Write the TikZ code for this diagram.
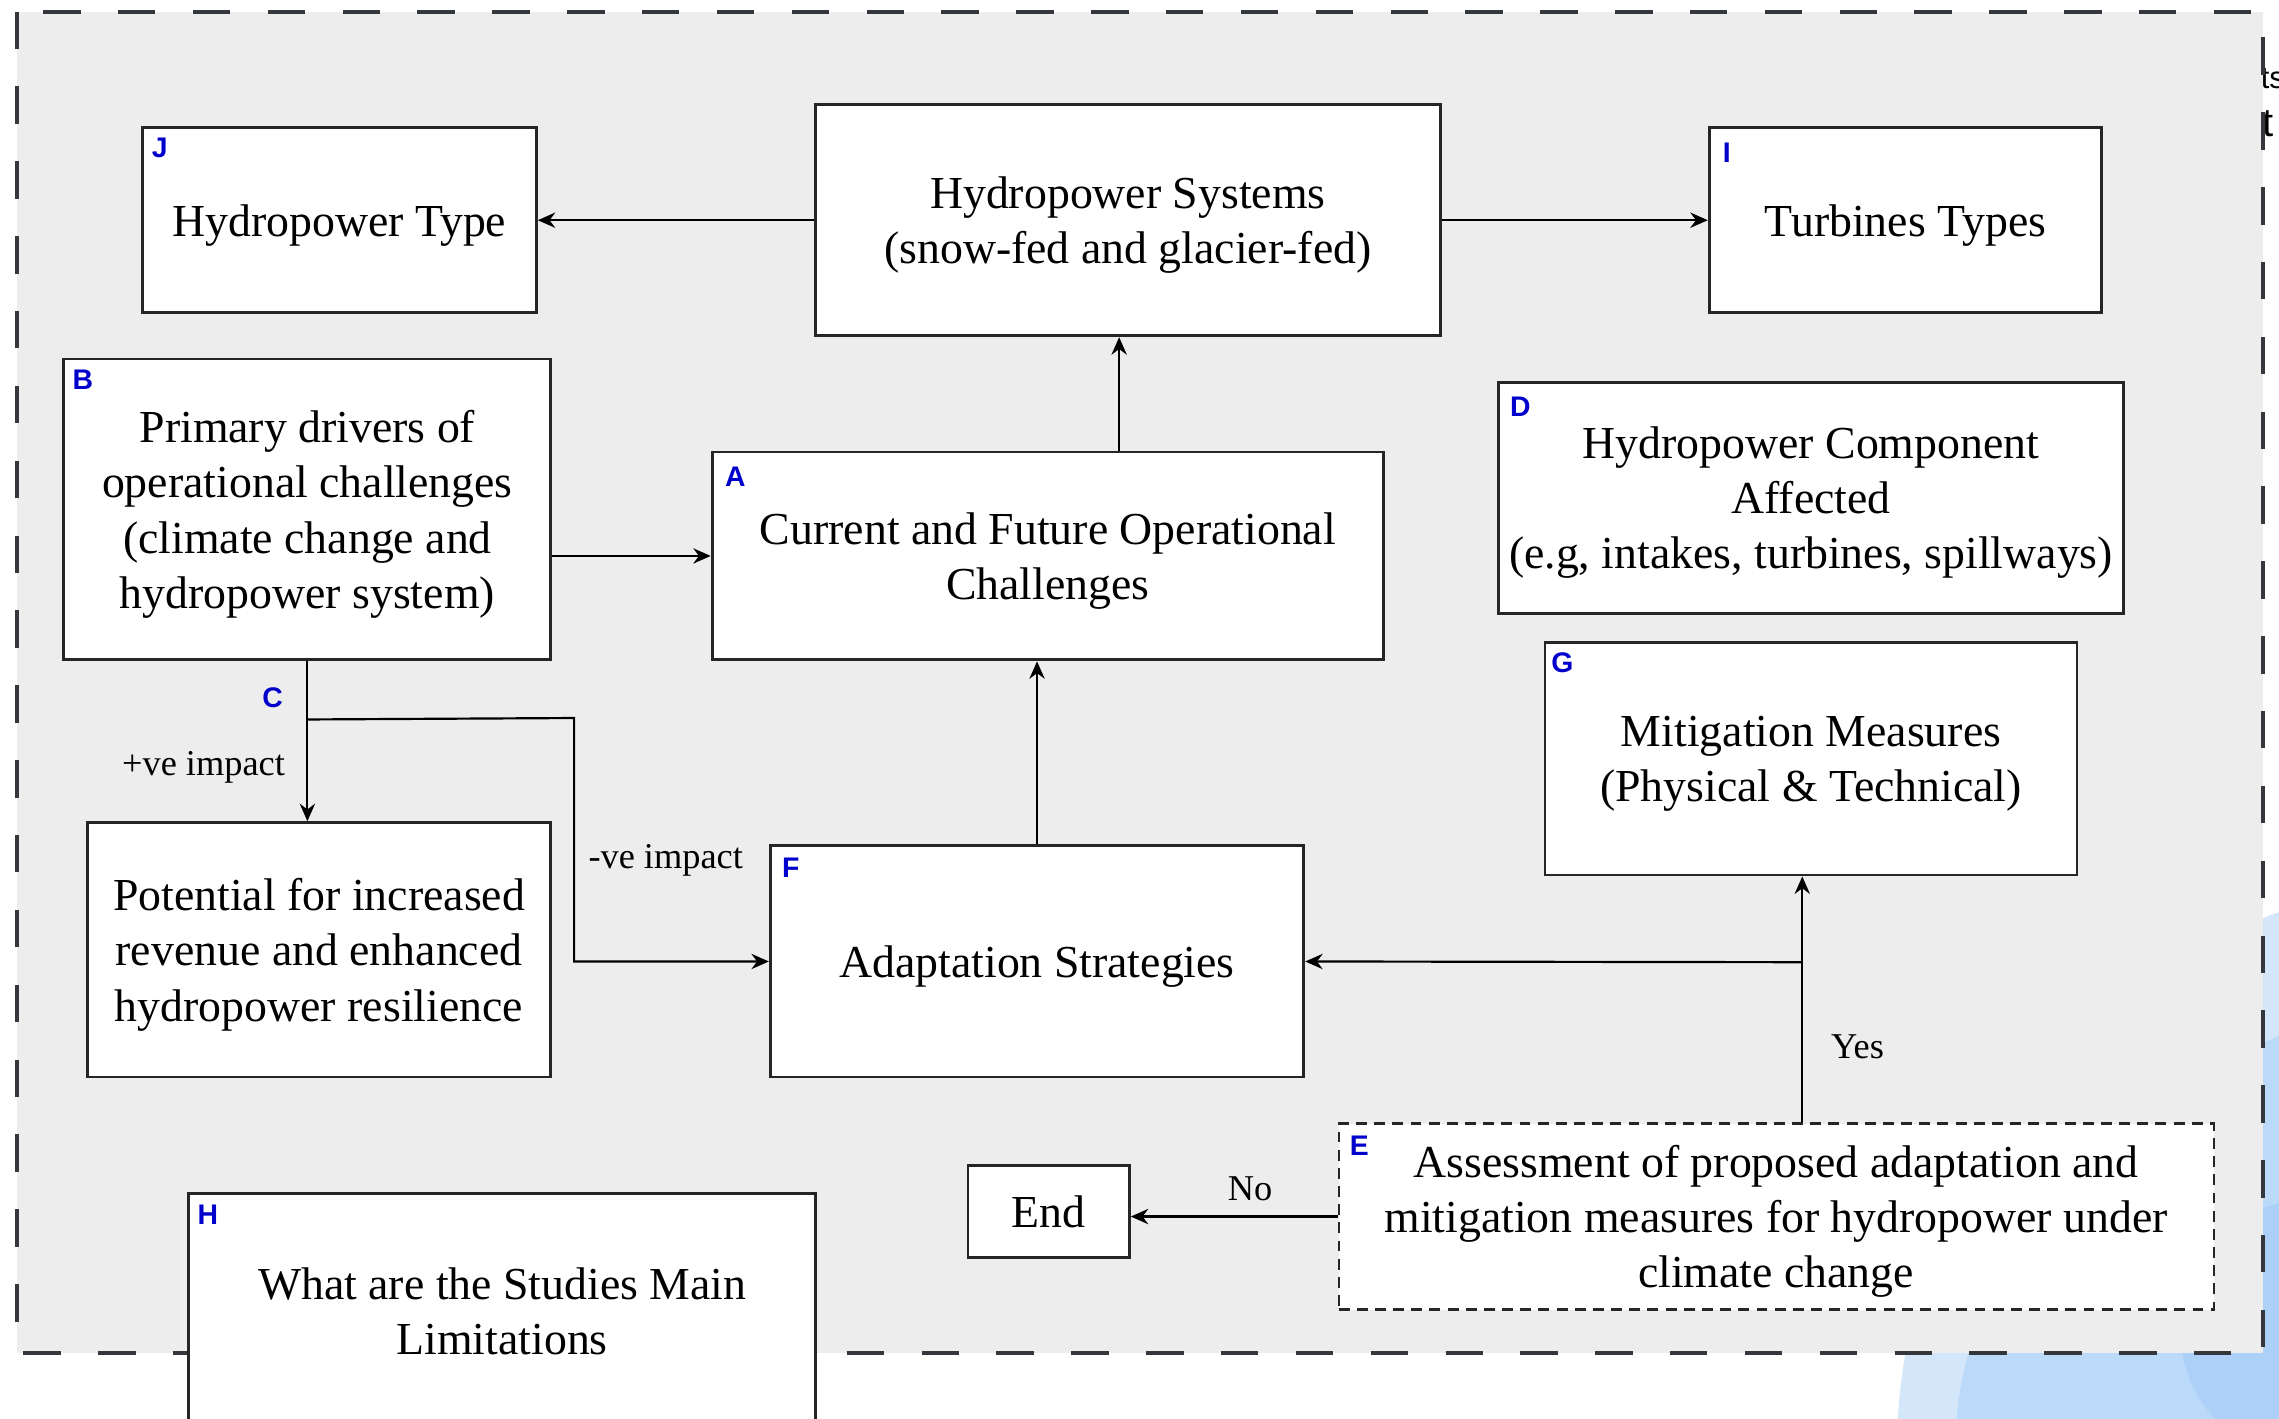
\documentclass[tikz,border=0pt]{standalone}
\usepackage{fontspec}
\setmainfont{Liberation Serif}
\newfontfamily\tagfont{Liberation Sans}
\usetikzlibrary{arrows.meta}

\definecolor{tagblue}{RGB}{0,0,204}
\definecolor{panelgray}{RGB}{237,237,237}
\definecolor{framegray}{RGB}{52,56,60}
\definecolor{skyA}{RGB}{212,231,250}
\definecolor{skyB}{RGB}{187,218,249}
\definecolor{skyC}{RGB}{172,208,247}

\tikzset{
  box/.style={draw=black!85, line width=0.8pt, fill=white, align=center, inner sep=0pt,
    font=\fontsize{12.6}{15.2}\selectfont, text depth=-1.3pt},
  tag/.style={text=tagblue, font=\tagfont\bfseries\fontsize{7.8}{9}\selectfont, inner sep=0pt},
  arr/.style={line width=0.6pt, -{Stealth[length=4.8pt,width=4.2pt]}},
  elabel/.style={font=\fontsize{10}{12}\selectfont, inner sep=0pt},
}

\begin{document}
\begin{tikzpicture}[x=0.4pt,y=-0.4pt]
\path[use as bounding box] (0,0) rectangle (1568,976);
\clip (0,0) rectangle (1568,976);

% bits of the page behind the panel
\fill[skyA] (1700,1000) circle [radius=395];
\fill[skyB] (1745,1000) ellipse [x radius=400, y radius=320];
\fill[skyC] (1590,915) circle [radius=90];
\node[font=\tagfont\fontsize{8.5}{10}\selectfont, anchor=base west, inner sep=0pt] (frag1) at (1555,61) {ts};
\node[font=\tagfont\fontsize{11}{13}\selectfont, anchor=base west, inner sep=0pt] (frag2) at (1556,94) {t};

% panel
\draw[framegray, line width=1.1pt, dash pattern=on 10.3pt off 10.3pt, fill=panelgray] (12,8) rectangle (1557,931);

% boxes
\node[box, minimum width=172pt, minimum height=63.6pt] (hps) at (776,151.5) {Hydropower Systems\\(snow-fed and glacier-fed)};
\node[box, minimum width=108.4pt, minimum height=50.8pt] (htype) at (233.5,151.5) {Hydropower Type};
\node[box, minimum width=108pt, minimum height=50.8pt] (turb) at (1311,151.5) {Turbines Types};
\node[box, minimum width=134pt, minimum height=82.8pt] (drivers) at (211.5,350.5) {Primary drivers of\\operational challenges\\(climate change and\\hydropower system)};
\node[box, minimum width=184.8pt, minimum height=57.2pt] (chall) at (721,382.5) {Current and Future Operational\\Challenges};
\node[box, minimum width=172pt, minimum height=63.6pt] (comp) at (1246,342.5) {Hydropower Component\\Affected\\(e.g, intakes, turbines, spillways)};
\node[box, minimum width=146.4pt, minimum height=64pt] (mitig) at (1246,522) {Mitigation Measures\\(Physical \& Technical)};
\node[box, minimum width=127.6pt, minimum height=70pt] (revenue) at (219.5,653.5) {Potential for increased\\revenue and enhanced\\hydropower resilience};
\node[box, minimum width=146.8pt, minimum height=63.6pt] (adapt) at (713.5,661.5) {Adaptation Strategies};
\node[box, densely dashed, line width=0.6pt, minimum width=240.8pt, minimum height=51.2pt] (assess) at (1222,837) {Assessment of proposed adaptation and\\mitigation measures for hydropower under\\climate change};
\node[box, minimum width=44.4pt, minimum height=25.2pt] (end) at (721.5,833.5) {End};
\node[box, minimum width=172.4pt, minimum height=64.8pt] (limits) at (345.5,902) {What are the Studies Main\\Limitations};

% letters
\node[tag] at ([shift={(13,15)}]htype.north west) {J};
\node[tag] at ([shift={(13,18)}]turb.north west) {I};
\node[tag] at ([shift={(14,15)}]drivers.north west) {B};
\node[tag] at ([shift={(17,18)}]chall.north west) {A};
\node[tag] at ([shift={(16,18)}]comp.north west) {D};
\node[tag] at ([shift={(13,15)}]mitig.north west) {G};
\node[tag] at ([shift={(-24,25)}]drivers.south) {C};
\node[tag] at ([shift={(15,16)}]adapt.north west) {F};
\node[tag] at ([shift={(15,16)}]assess.north west) {E};
\node[tag] at ([shift={(14,16)}]limits.north west) {H};

% connectors
\draw[arr] (hps) -- (htype);
\draw[arr] (hps) -- (turb);
\draw[arr] ([xshift=-2.4pt]hps.south |- chall.north) -- ([xshift=-2.4pt]hps.south);
\draw[arr] (drivers.east |- chall.west) -- (chall.west);
\draw[arr] (drivers.south) -- (drivers.south |- revenue.north);
\node[elabel] (plus) at (140,528) {+ve impact};
\coordinate (split) at ([shift={(0,40)}]drivers.south);
\coordinate (bend) at (395,494);
\draw[arr] (split) -- (bend) |- (adapt.west);
\node[elabel] (minus) at (458,592) {-ve impact};
\draw[arr] (adapt.north) -- (adapt.north |- chall.south);
\coordinate (yes) at (1240,662);
\draw[arr] (assess.north -| yes) -- (mitig.south -| yes);
\draw[arr] (yes) -- (adapt.east);
\node[elabel] (yeslbl) at (1278,720) {Yes};
\draw[arr] (assess.west) -- (assess.west -| end.east);
\node[elabel] (nolbl) at (860,818) {No};
\end{tikzpicture}
\end{document}
